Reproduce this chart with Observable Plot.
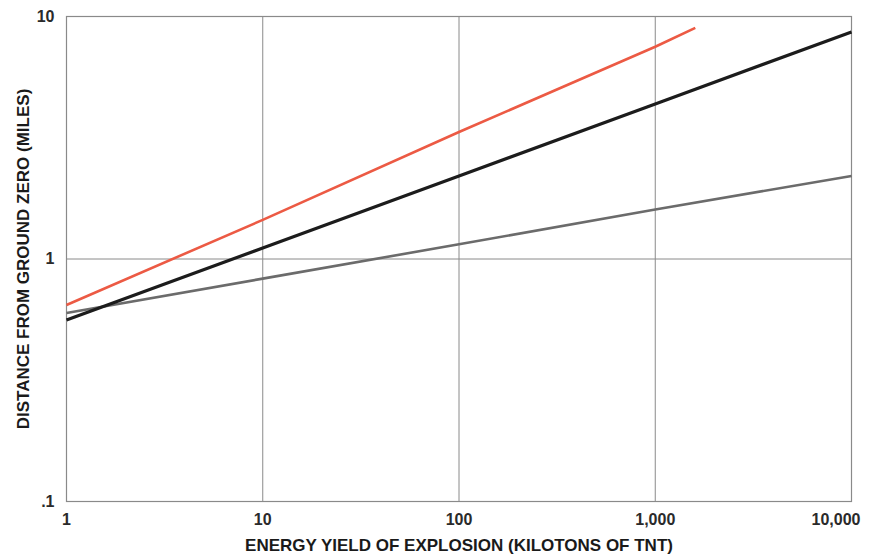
<!DOCTYPE html>
<html>
<head>
<meta charset="utf-8">
<script src="https://cdn.jsdelivr.net/npm/d3@7"></script>
<script src="https://cdn.jsdelivr.net/npm/@observablehq/plot@0.6"></script>
<style>
  html, body { margin: 0; padding: 0; background: #fff; }
  #chart svg { display: block; }
</style>
</head>
<body>
<div id="chart"></div>
<script>
// Energy yield (kilotons of TNT) and distance from ground zero (miles)
const redYield = [1, 10, 100, 1000, 1600];
const redDist = [0.646, 1.45, 3.34, 7.5, 8.97];
const blackYield = [1, 10, 100, 1000, 10000];
const blackDist = [0.56, 1.11, 2.2, 4.36, 8.63];
const grayYield = [1, 10, 100, 1000, 10000];
const grayDist = [0.599, 0.83, 1.15, 1.6, 2.2];

const xTicks = [1, 10, 100, 1000, 10000];
const yTicks = [0.1, 1, 10];
const yTickLabels = [".1", "1", "10"];
const xGrid = [10, 100, 1000];
const yGrid = [1];

const series = [
  {name: "gray", yields: grayYield, dists: grayDist},
  {name: "black", yields: blackYield, dists: blackDist},
  {name: "red", yields: redYield, dists: redDist}
];
const rows = series.flatMap(s => s.yields.map((x, i) => ({series: s.name, x, y: s.dists[i]})));

const colors = {gray: "#6b6b6b", black: "#1c1c1c", red: "#ec5a44"};
const widths = {gray: 2.6, black: 3.2, red: 2.6};

const font = "'Liberation Sans', Arial, sans-serif";
const tickStyle = {tickSize: 0, tickPadding: 12, fontSize: 16, fontWeight: "bold", fill: "#2a2a2a"};

const chart = Plot.plot({
  width: 874,
  height: 554,
  marginLeft: 66,
  marginRight: 23,
  marginTop: 16,
  marginBottom: 53,
  style: {fontFamily: font, background: "#fff"},
  x: {type: "log", domain: [1, 10000]},
  y: {type: "log", domain: [0.1, 10]},
  marks: [
    Plot.ruleX(xGrid, {stroke: "#8a8a8a", strokeWidth: 1}),
    Plot.ruleY(yGrid, {stroke: "#8a8a8a", strokeWidth: 1}),
    Plot.frame({stroke: "#8a8a8a", strokeWidth: 1.2}),
    ...series.map(s => Plot.line(rows.filter(r => r.series === s.name), {
      x: "x", y: "y", stroke: colors[s.name], strokeWidth: widths[s.name], strokeLinecap: "butt"
    })),
    Plot.axisX({
      ...tickStyle,
      ticks: xTicks.slice(0, -1),
      tickFormat: d3.format(","),
      label: "ENERGY YIELD OF EXPLOSION (KILOTONS OF TNT)", labelAnchor: "center", labelArrow: "none", labelOffset: 49
    }),
    Plot.axisX({
      ...tickStyle,
      ticks: xTicks.slice(-1),
      tickFormat: d3.format(","),
      textAnchor: "end", dx: 9,
      label: null
    }),
    Plot.axisY({
      ...tickStyle,
      ticks: yTicks,
      tickFormat: d => yTickLabels[yTicks.indexOf(d)],
      label: "DISTANCE FROM GROUND ZERO (MILES)", labelAnchor: "center", labelArrow: "none", labelOffset: 50
    })
  ]
});
document.getElementById("chart").appendChild(chart);
d3.select(chart).selectAll("g[aria-label='x-axis label'] text, g[aria-label='y-axis label'] text")
  .style("font-size", "17px").style("font-weight", "bold").style("fill", "#1a1a1a");
</script>
</body>
</html>
